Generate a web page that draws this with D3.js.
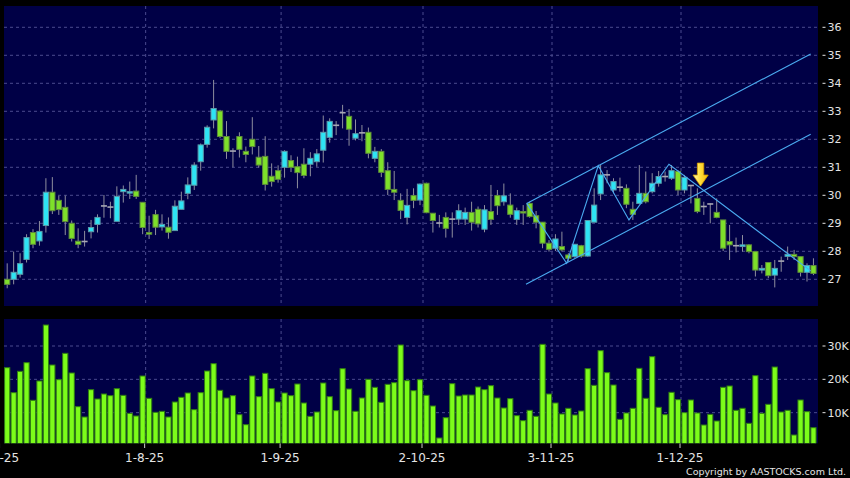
<!DOCTYPE html>
<html><head><meta charset="utf-8">
<script src="https://cdn.jsdelivr.net/npm/d3@7"></script>
<style>html,body{margin:0;padding:0;background:#000;}svg{display:block}</style>
</head><body>
<svg id="c" width="850" height="478"></svg>
<script>
// ---------- DATA ----------
const opens = [27.00,27.00,27.18,27.71,28.67,28.37,28.92,30.11,29.82,29.57,29.00,28.36,28.35,28.70,28.96,29.62,29.58,29.07,30.13,30.08,
30.15,29.75,28.67,29.31,28.87,28.86,28.74,29.50,30.07,30.36,31.20,31.82,32.69,33.01,32.10,31.58,32.10,31.57,32.00,31.36,
31.39,30.68,30.88,31.00,31.24,31.02,31.11,31.11,31.20,31.61,32.07,32.50,32.95,32.82,32.04,32.23,32.25,31.32,31.57,30.88,
30.21,29.82,29.21,29.99,29.83,30.43,29.36,29.01,29.21,29.15,29.15,29.15,29.39,29.50,28.79,29.42,29.99,29.77,29.65,29.14,
29.42,29.71,29.27,29.04,28.29,28.11,28.17,27.87,27.81,28.20,27.83,29.04,30.05,30.73,30.19,30.29,30.25,29.50,29.71,30.07,
30.13,30.43,30.67,30.61,30.85,30.19,30.35,29.89,29.60,29.69,29.39,29.12,28.35,28.20,28.17,28.23,27.99,27.33,27.60,27.15,
27.65,27.82,27.89,27.81,27.25,27.49];
const highs = [27.57,27.99,27.93,28.61,28.79,29.08,30.61,30.65,29.98,29.99,29.10,28.82,28.73,29.12,29.32,30.01,29.77,30.32,30.35,30.49,
30.73,29.75,29.27,29.48,29.32,29.21,29.82,30.13,30.64,31.18,31.85,32.50,34.12,33.05,32.65,31.68,32.25,31.74,32.79,31.76,
32.11,31.14,31.07,31.61,31.43,31.38,31.68,31.54,31.65,32.85,32.75,32.65,33.23,33.08,32.71,32.51,32.42,31.73,31.65,31.18,
30.87,30.07,30.23,30.25,30.42,30.45,29.36,29.30,29.39,29.39,29.68,29.56,29.77,29.60,29.65,30.37,30.19,30.42,30.07,29.56,
29.65,29.77,29.44,29.04,28.40,28.61,28.70,27.93,28.25,28.23,29.10,30.25,31.08,30.90,30.61,30.63,30.39,29.77,31.08,30.85,
30.79,30.87,30.85,31.08,30.90,30.73,30.37,30.25,29.77,29.71,29.89,29.12,28.94,28.49,28.58,28.25,27.99,27.51,27.60,27.69,
27.81,28.17,28.05,27.81,27.57,27.75];
const lows = [26.68,26.82,27.06,27.60,28.11,28.20,28.67,29.33,29.30,28.58,28.35,28.11,28.17,28.46,28.67,29.20,29.18,29.07,29.74,29.87,
29.87,28.61,28.44,28.58,28.74,28.45,28.74,29.50,29.86,30.19,30.88,31.70,32.39,32.04,31.30,31.00,31.35,31.18,31.46,30.99,
30.17,30.31,30.45,30.63,30.83,30.25,30.61,30.68,31.02,31.17,31.88,32.15,32.39,31.77,31.96,31.93,31.32,31.18,30.65,30.01,
29.83,29.15,28.96,29.54,29.65,29.36,28.67,28.85,28.49,28.49,28.94,28.94,28.74,28.85,28.68,28.94,29.30,29.63,29.20,28.94,
28.94,29.20,28.82,28.11,27.99,28.01,27.99,27.63,27.77,27.77,27.81,29.04,29.83,30.43,30.07,30.13,29.54,29.12,29.68,29.71,
30.07,30.31,30.49,30.55,30.01,30.07,29.71,29.36,29.30,29.00,29.18,28.01,27.69,27.96,27.99,27.93,27.10,27.21,27.04,26.71,
27.27,27.69,27.69,27.10,26.92,27.15];
const closes = [26.82,27.25,27.56,28.49,28.25,28.71,30.11,29.45,29.49,29.06,28.46,28.25,28.35,28.85,29.21,29.62,29.58,29.96,30.21,30.13,
29.96,28.85,28.61,28.86,28.96,28.68,29.61,29.80,30.37,31.08,31.80,32.43,33.10,32.10,31.57,31.58,31.64,31.46,31.74,31.08,
30.39,30.49,30.57,31.57,31.00,30.81,30.71,31.32,31.48,32.25,32.64,32.50,32.95,32.36,32.20,32.23,31.50,31.57,30.82,30.21,
30.11,29.46,29.64,29.82,30.40,29.38,29.10,29.01,28.82,29.15,29.45,29.39,29.04,28.98,29.48,29.14,29.63,29.98,29.32,29.45,
29.40,29.24,29.04,28.29,28.07,28.44,28.05,27.75,28.25,27.83,29.10,29.65,30.73,30.73,30.49,30.29,29.68,29.32,30.07,29.77,
30.43,30.67,30.67,30.88,30.19,30.64,30.35,29.42,29.60,29.69,29.21,28.11,28.23,28.20,28.23,27.99,27.33,27.39,27.13,27.39,
27.65,27.89,27.81,27.25,27.49,27.21];
// volume in thousands of shares
const volumesK = [23.5,16.0,22.4,25.0,13.7,19.5,36.3,24.3,19.9,27.8,21.9,11.8,8.7,16.9,14.1,15.6,15.1,17.2,15.2,9.8,
9.0,21.0,14.3,10.1,10.4,8.7,13.2,14.6,15.9,10.9,16.0,22.5,24.7,16.7,14.4,15.1,9.4,6.4,21.0,14.8,
21.8,17.2,13.2,15.9,15.1,18.6,12.9,8.9,10.2,18.9,14.8,10.6,23.2,17.1,10.4,14.4,20.0,17.6,13.1,18.5,
19.0,30.3,19.6,16.6,19.9,15.2,12.0,2.4,8.5,18.7,15.0,15.3,15.3,17.7,16.9,18.1,14.4,11.4,14.2,9.1,
7.6,10.7,8.9,30.5,15.6,12.9,9.6,11.3,9.3,10.5,23.2,18.2,28.6,22.0,18.3,8.0,9.9,11.3,23.3,14.3,
26.8,11.6,9.4,16.1,13.9,10.0,13.8,9.9,6.3,9.5,7.5,17.6,18.0,10.7,11.3,6.8,21.1,9.8,12.5,23.7,
10.2,10.7,3.3,13.8,10.3,5.5];
const priceTicks = [27,28,29,30,31,32,33,34,35,36];
const volumeTicks = [10000,20000,30000];
const volumeTickLabels = ["10K","20K","30K"];
const dateTickIndex = [-1.5,21,42,64,84,104];
const dateTickLabels = ["1-7-25","1-8-25","1-9-25","2-10-25","3-11-25","1-12-25"];
// drawn trend lines: [bar index, price]
const channelUpper = [[80.54,29.71],[124.57,35.05]];
const channelLower = [[80.43,26.82],[124.57,32.18]];
const zigzag = [[80.54,29.71],[86.74,27.57],[91.64,31.06],[96.40,29.12],[102.6,31.11],[124.57,27.30]];
const signalArrow = {index:107.5, price:30.33};

// ---------- CHART ----------
const svg = d3.select("#c");
const font = "DejaVu Sans, Verdana, sans-serif";
const P = {x:4, y:6, w:814, h:300};
const V = {x:4, y:319, w:814, h:124.3};
const gridColor = "#4a4a8e";
const txtColor = "#e4e4e4";

svg.append("rect").attr("width",850).attr("height",478).attr("fill","#000");

const x = d3.scaleLinear().domain([0,125]).range([7.2, 7.2+125*6.45]);
const y = d3.scaleLinear().domain([27,36]).range([279.3,27.3]);
const yv = d3.scaleLinear().domain([0,30000]).range([446,346]);

const defs = svg.append("defs");
defs.append("clipPath").attr("id","cp").append("rect").attr("x",P.x).attr("y",P.y).attr("width",P.w).attr("height",P.h);
defs.append("clipPath").attr("id","cv").append("rect").attr("x",V.x).attr("y",V.y).attr("width",V.w).attr("height",V.h);
const grad = defs.append("linearGradient").attr("id","ag").attr("x1","0").attr("x2","1").attr("y1","0").attr("y2","0");
grad.append("stop").attr("offset","0%").attr("stop-color","#fff9b0");
grad.append("stop").attr("offset","45%").attr("stop-color","#ffe040");
grad.append("stop").attr("offset","100%").attr("stop-color","#f5b800");

svg.append("rect").attr("x",P.x).attr("y",P.y).attr("width",P.w).attr("height",P.h).attr("fill","#000046");
svg.append("rect").attr("x",V.x).attr("y",V.y).attr("width",V.w).attr("height",V.h).attr("fill","#000046");

const gP = svg.append("g").attr("clip-path","url(#cp)");
const gV = svg.append("g").attr("clip-path","url(#cv)");

// grids
gP.selectAll(".hg").data(priceTicks).join("line")
  .attr("x1",P.x).attr("x2",P.x+P.w).attr("y1",d=>y(d)).attr("y2",d=>y(d))
  .attr("stroke",gridColor).attr("stroke-dasharray","3,3");
gV.selectAll(".hg").data(volumeTicks).join("line")
  .attr("x1",V.x).attr("x2",V.x+V.w).attr("y1",d=>yv(d)).attr("y2",d=>yv(d))
  .attr("stroke",gridColor).attr("stroke-dasharray","3,3");
[gP,gV].forEach((g,k)=>{
  const R = k===0?P:V;
  g.selectAll(".vg").data(dateTickIndex).join("line")
    .attr("x1",d=>x(d)+3).attr("x2",d=>x(d)+3).attr("y1",R.y).attr("y2",R.y+R.h)
    .attr("stroke",gridColor).attr("stroke-dasharray","3,3");
});

// candles
const idx = d3.range(opens.length);
gP.selectAll(".wick").data(idx).join("line")
  .attr("x1",i=>x(i)).attr("x2",i=>x(i)).attr("y1",i=>y(highs[i])).attr("y2",i=>y(lows[i]))
  .attr("stroke","#8e8e9e").attr("stroke-width",1);
const bodies = idx.filter(i=>Math.abs(closes[i]-opens[i])>0.001);
const dojis = idx.filter(i=>Math.abs(closes[i]-opens[i])<=0.001);
gP.selectAll(".body").data(bodies).join("rect")
  .attr("x",i=>x(i)-2.6).attr("width",5.2)
  .attr("y",i=>y(Math.max(opens[i],closes[i])))
  .attr("height",i=>Math.max(1.5,Math.abs(y(opens[i])-y(closes[i]))))
  .attr("fill",i=>closes[i]>opens[i]?"#2ee4f4":"#7ee02a")
  .attr("stroke",i=>closes[i]>opens[i]?"#5a9aaa":"#5e8a3c").attr("stroke-width",1);
gP.selectAll(".doji").data(dojis).join("line")
  .attr("x1",i=>x(i)-3).attr("x2",i=>x(i)+3).attr("y1",i=>y(opens[i])).attr("y2",i=>y(opens[i]))
  .attr("stroke","#a8a8b4").attr("stroke-width",1.6);

// trend lines
const line = d3.line().x(d=>x(d[0])).y(d=>y(d[1]));
[channelUpper,channelLower,zigzag].forEach(pts=>{
  gP.append("path").attr("d",line(pts)).attr("fill","none").attr("stroke","#4aaaf0").attr("stroke-width",1.1);
});

// arrow
const ax = x(signalArrow.index), ay = y(signalArrow.price);
gP.append("path")
  .attr("d",`M${ax-3.2},${ay-23} L${ax+3.2},${ay-23} L${ax+3.2},${ay-11} L${ax+7.6},${ay-11} L${ax},${ay} L${ax-7.6},${ay-11} L${ax-3.2},${ay-11} Z`)
  .attr("fill","url(#ag)").attr("stroke","#d8a000").attr("stroke-width",0.8);

// volume bars
gV.selectAll(".vb").data(idx).join("rect")
  .attr("x",i=>x(i)-2.6).attr("width",5.2)
  .attr("y",i=>yv(volumesK[i]*1000)).attr("height",i=>V.y+V.h+2-yv(volumesK[i]*1000))
  .attr("fill","#7cfc1a").attr("stroke","#2f7d12").attr("stroke-width",1);

// right axis labels
svg.selectAll(".pt").data(priceTicks).join("line")
  .attr("x1",822.5).attr("x2",825.5).attr("y1",d=>y(d)).attr("y2",d=>y(d)).attr("stroke",txtColor);
svg.selectAll(".ptl").data(priceTicks).join("text")
  .attr("x",827.5).attr("y",d=>y(d)+4).text(d=>d)
  .attr("fill",txtColor).attr("font-family",font).attr("font-size",11);
svg.selectAll(".vt").data(volumeTicks).join("line")
  .attr("x1",822.5).attr("x2",825.5).attr("y1",d=>yv(d)).attr("y2",d=>yv(d)).attr("stroke",txtColor);
svg.selectAll(".vtl").data(volumeTicks).join("text")
  .attr("x",827.5).attr("y",d=>yv(d)+4).text((d,i)=>volumeTickLabels[i])
  .attr("fill",txtColor).attr("font-family",font).attr("font-size",11);

// date axis
svg.selectAll(".dt").data(dateTickIndex).join("line")
  .attr("x1",d=>x(d)+2).attr("x2",d=>x(d)+2).attr("y1",443.5).attr("y2",448)
  .attr("stroke","#cfcfcf");
svg.selectAll(".dtl").data(dateTickIndex).join("text")
  .attr("x",d=>x(d)+2).attr("y",462).attr("text-anchor","middle").text((d,i)=>dateTickLabels[i])
  .attr("fill",txtColor).attr("font-family",font).attr("font-size",12);

svg.append("text").attr("x",846).attr("y",474.5).attr("text-anchor","end")
  .text("Copyright by AASTOCKS.com Ltd.").attr("fill",txtColor)
  .attr("font-family",font).attr("font-size",9.5);
</script>
</body></html>
